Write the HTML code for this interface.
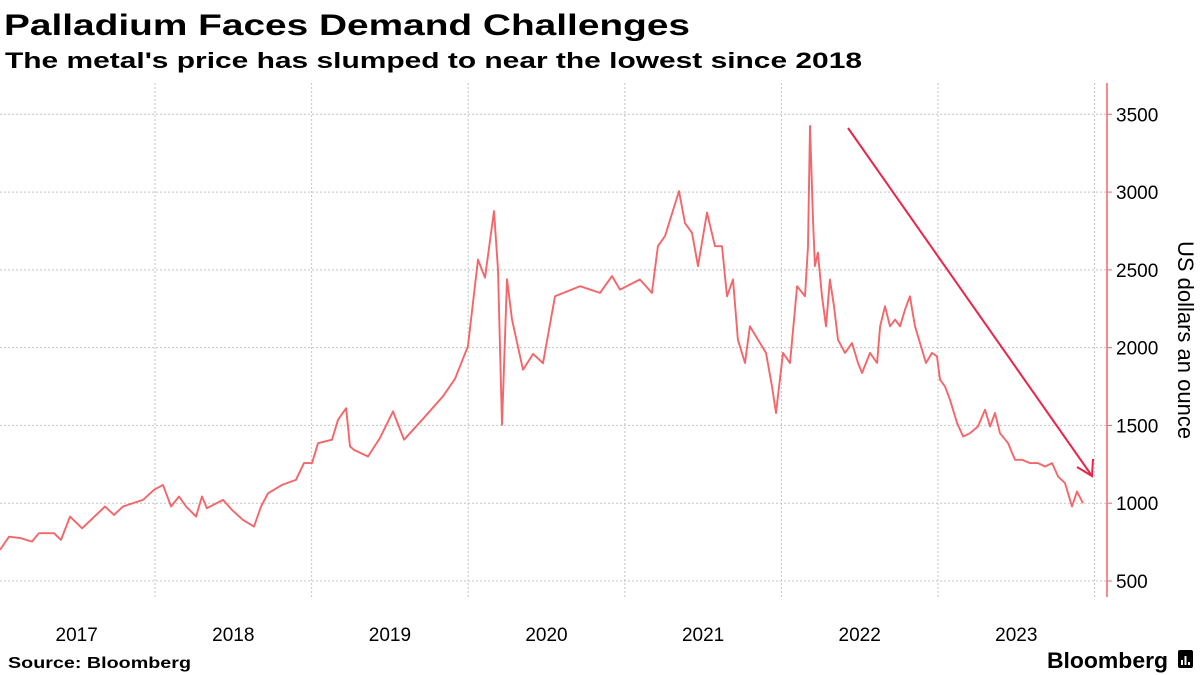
<!DOCTYPE html>
<html><head><meta charset="utf-8"><style>
html,body{margin:0;padding:0;background:#fff;}
svg{display:block;font-family:"Liberation Sans",sans-serif;}
</style></head><body>
<svg id="chart" width="1200" height="675" viewBox="0 0 1200 675">
<text x="4" y="35" font-size="30" font-weight="bold" fill="#000" textLength="686" lengthAdjust="spacingAndGlyphs">Palladium Faces Demand Challenges</text>
<text x="5" y="68" font-size="22" font-weight="bold" fill="#000" textLength="857" lengthAdjust="spacingAndGlyphs">The metal's price has slumped to near the lowest since 2018</text>
<g id="grid"></g>
<g id="yaxis"></g>
<g id="xaxis"></g>
<text transform="translate(1178,340) rotate(90)" text-anchor="middle" font-size="22" fill="#000">US dollars an ounce</text>
<path id="line" fill="none" stroke="#f46669" stroke-width="1.9" stroke-linejoin="round"/>
<g>
<line x1="848" y1="128" x2="1092" y2="476" stroke="#e8254a" stroke-width="2"/>
<polyline points="1077,467 1092,476 1093,459" fill="none" stroke="#e8254a" stroke-width="2"/>
</g>
<text x="8" y="668" font-size="16" font-weight="bold" fill="#000" textLength="183" lengthAdjust="spacingAndGlyphs">Source: Bloomberg</text>
<text x="1047" y="668" font-size="22" font-weight="bold" fill="#000" textLength="121" lengthAdjust="spacingAndGlyphs">Bloomberg</text>
<g>
<rect x="1178" y="650" width="15" height="18" rx="2" fill="#000"/>
<rect x="1181" y="660" width="2" height="5" fill="#fff"/><rect x="1184.5" y="656" width="2" height="9" fill="#fff"/><rect x="1188" y="662" width="2" height="3" fill="#fff"/>
</g>
</svg>
<script>
// months since Jan 2017
const months = [0.12,0.81,1.73,2.57,3.1,4.26,4.8,5.49,6.41,8.17,8.86,9.55,11.08,11.92,12.61,13.23,13.84,14.38,15.14,15.6,15.98,17.21,17.9,18.74,19.59,20.12,20.66,21.73,22.8,23.42,24.03,24.49,25.56,26.02,26.64,26.94,27.25,28.32,29.24,30.24,31.08,32.3,34.07,34.99,35.98,36.75,37.29,37.98,38.28,38.59,38.97,39.36,40.2,40.97,41.73,42.65,44.57,46.1,47.02,47.63,49.16,50.08,50.54,51.08,52.15,52.61,53.15,53.61,54.3,54.91,55.45,55.83,56.29,56.67,57.21,57.59,58.36,58.82,59.28,59.59,60.12,60.66,61.2,61.81,62.04,62.19,62.42,62.57,62.8,63.11,63.42,63.72,64.03,64.34,64.87,65.41,65.87,66.18,66.79,67.33,67.56,67.94,68.32,68.71,69.09,69.47,69.85,70.24,70.62,71.08,71.54,71.92,72.15,72.54,72.92,73.46,73.92,74.45,75.06,75.6,75.99,76.37,76.75,77.37,77.9,78.44,79.05,79.66,80.2,80.74,81.2,81.73,82.27,82.65,83.11];
const prices = [700,785,775,753,807,807,764,914,839,979,925,979,1021,1086,1118,979,1043,979,914,1043,968,1021,957,893,850,979,1064,1118,1150,1258,1258,1386,1408,1536,1611,1365,1343,1300,1420,1590,1408,1520,1687,1800,2008,2566,2450,2878,2500,1504,2440,2180,1858,1960,1900,2330,2395,2352,2460,2373,2438,2352,2652,2717,3006,2800,2738,2524,2868,2652,2652,2330,2438,2051,1901,2137,2030,1966,1751,1580,1966,1901,2395,2330,2652,3425,2824,2524,2610,2330,2137,2438,2266,2051,1966,2030,1901,1837,1966,1901,2137,2266,2137,2180,2137,2244,2330,2137,2030,1901,1966,1944,1794,1751,1665,1515,1429,1450,1493,1601,1493,1580,1450,1386,1279,1279,1258,1258,1236,1258,1172,1129,979,1075,1000];
const yTicks = [500,1000,1500,2000,2500,3000,3500];
const years = [2017,2018,2019,2020,2021,2022,2023];

const NS = "http://www.w3.org/2000/svg";
const xOfMonth = m => -1.6 + m * 156.6 / 12;
const yOf = v => 581 - (v - 500) * 0.15557;
const grid = document.getElementById('grid');
const yaxis = document.getElementById('yaxis');
const xaxis = document.getElementById('xaxis');
function mk(tag, attrs, parent){const e=document.createElementNS(NS,tag);for(const k in attrs)e.setAttribute(k,attrs[k]);parent.appendChild(e);return e;}

yTicks.forEach(v => {
  const y = yOf(v);
  const g = mk('line',{x1:0,x2:1107,y1:y,y2:y,stroke:'#c4c4c4','stroke-width':1,'stroke-dasharray':'2,2'},grid);
  
  
  const t = mk('line',{x1:1107,x2:1112,y1:y,y2:y,stroke:'#f46669','stroke-width':1},yaxis);
  
  
  const l = mk('text',{x:1116,y:y+7,'font-size':19,fill:'#000'},yaxis);
  l.textContent = v;
  
  
});
const ax = mk('line',{x1:1107,x2:1107,y1:83,y2:597,stroke:'#f46669','stroke-width':1.5},yaxis);



years.forEach((yr,i) => {
  const xs = xOfMonth(i*12);
  if (i > 0) {
    const g = mk('line',{x1:xs,x2:xs,y1:83,y2:597,stroke:'#c4c4c4','stroke-width':1,'stroke-dasharray':'2,2'},grid);
    
    
  }
  const l = mk('text',{x:xOfMonth(i*12+6),y:641,'font-size':19,fill:'#000','text-anchor':'middle'},xaxis);
  l.textContent = yr;
  
  
});
const lastGrid = mk('line',{x1:xOfMonth(84),x2:xOfMonth(84),y1:83,y2:597,stroke:'#c4c4c4','stroke-width':1,'stroke-dasharray':'2,2'},grid);



document.getElementById('line').setAttribute('d', months.map((m,i)=>(i?'L':'M')+xOfMonth(m).toFixed(1)+','+yOf(prices[i]).toFixed(1)).join(' '));
</script>
</body></html>
